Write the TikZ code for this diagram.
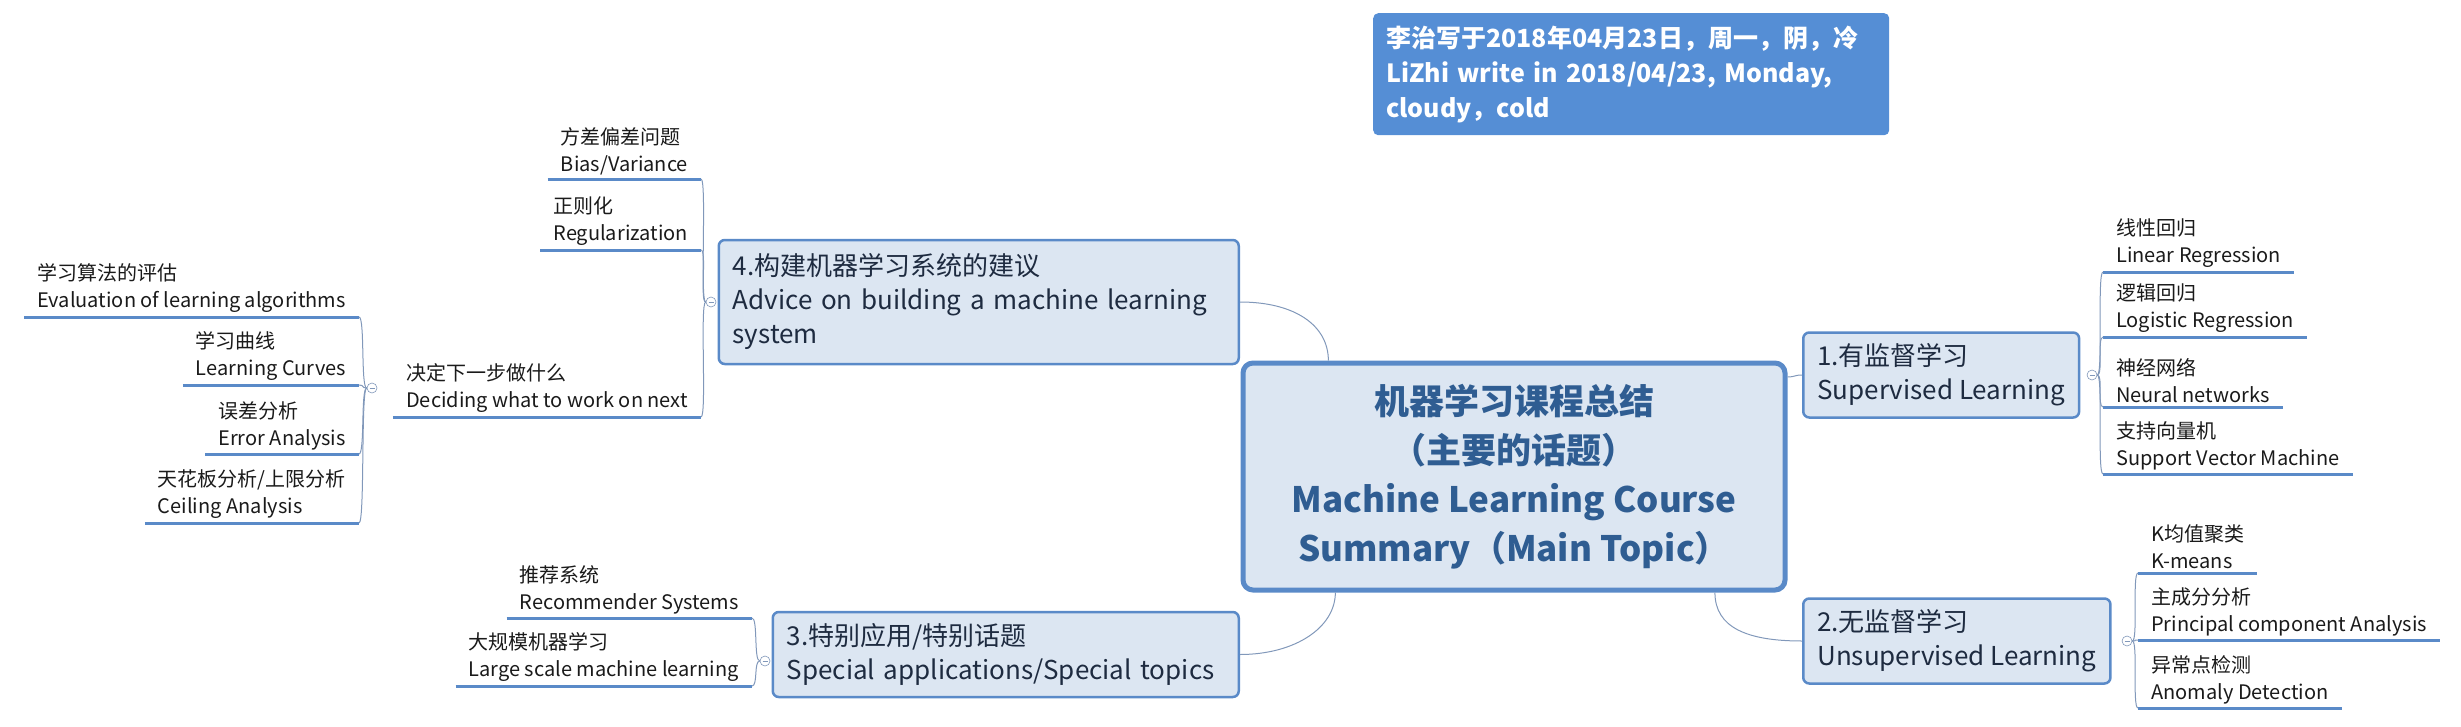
\documentclass[tikz,border=0pt]{standalone}
\usepackage{fontspec}
\setmainfont{Noto Sans CJK SC}
\usepackage{tikz}
\usepackage{xcolor}
\usetikzlibrary{calc}
\definecolor{boxfill}{HTML}{DCE6F2}
\definecolor{boxline}{HTML}{5A8AC8}
\definecolor{linkline}{HTML}{8198BA}
\definecolor{topicink}{HTML}{2F5D92}
\definecolor{boxink}{HTML}{1E2B40}
\definecolor{leafink}{HTML}{1A1A1A}
\definecolor{memofill}{HTML}{558ED5}
\tikzset{
  maintopic/.style={draw=boxline,fill=boxfill,line width=5pt,rounded corners=10pt,
                    minimum width=542pt,minimum height=227pt,align=center,
                    text=topicink,font=\fontsize{35}{49}\selectfont\bfseries},
  subtopic/.style={draw=boxline,fill=boxfill,line width=2.5pt,rounded corners=6pt,
                   minimum height=85pt,inner xsep=14pt,align=left,
                   text=boxink,font=\fontsize{26}{34}\selectfont},
  memo/.style={fill=memofill,rounded corners=5pt,text=white,align=left,
               text width=490pt,inner xsep=13pt,minimum height=122pt,
               font=\fontsize{25}{35}\selectfont\bfseries},
  leaf/.style={align=left,inner xsep=13pt,inner ysep=4pt,text=leafink,
               font=\fontsize{20}{27}\selectfont},
  uline/.style={draw=boxline,line width=3pt},
  link/.style={draw=linkline,line width=1pt},
  fold/.style={circle,draw=linkline,fill=white,line width=0.6pt,minimum size=10pt,inner sep=0pt,
               path picture={\draw[linkline,line width=0.6pt]
                 ([xshift=2.5pt]path picture bounding box.west) -- ([xshift=-2.5pt]path picture bounding box.east);}}
}

\begin{document}
\begin{tikzpicture}[x=1pt,y=-1pt]
  \useasboundingbox (0,0) rectangle (2461,726);
  % centre and note
  \node[maintopic] (main) at (1514,476.5) {机器学习课程总结\\（主要的话题）\\Machine Learning Course\\Summary（Main Topic）};
  \node[memo,anchor=north west] (memo) at (1373,13) {李治写于2018年04月23日，周一，阴，冷\\LiZhi write in 2018/04/23, Monday,\\cloudy，cold};
  % main branches
  \node[subtopic,anchor=west] (sup) at (1802,375) {1.有监督学习\\Supervised Learning};
  \node[subtopic,anchor=west] (unsup) at (1802,641) {2.无监督学习\\Unsupervised Learning};
  \node[subtopic,anchor=east,text width=438pt] (special) at (1240,654.5) {3.特别应用/特别话题\\Special applications/Special topics};
  \node[subtopic,anchor=east,text width=492pt,minimum height=124pt] (advice) at (1240,302) {4.构建机器学习系统的建议\\Advice on building a machine learning\\system};
  % leaves, right side
  \node[leaf,anchor=south west] (lr) at (2103,272) {线性回归\\Linear Regression};
  \node[leaf,anchor=south west] (logr) at (2103,337) {逻辑回归\\Logistic Regression};
  \node[leaf,anchor=south west] (nn) at (2103,407) {神经网络\\Neural networks};
  \node[leaf,anchor=south west] (svm) at (2103,474) {支持向量机\\Support Vector Machine};
  \node[leaf,anchor=south west] (km) at (2138,573) {K均值聚类\\K-means};
  \node[leaf,anchor=south west] (pca) at (2138,640) {主成分分析\\Principal component Analysis};
  \node[leaf,anchor=south west] (anom) at (2138,708) {异常点检测\\Anomaly Detection};
  % leaves, left side
  \node[leaf,anchor=south east] (rec) at (752,618) {推荐系统\\Recommender Systems};
  \node[leaf,anchor=south east] (lsml) at (752,686) {大规模机器学习\\Large scale machine learning};
  \node[leaf,anchor=south east] (bv) at (701,179) {方差偏差问题\\Bias/Variance};
  \node[leaf,anchor=south east] (reg) at (701,250) {正则化\\Regularization};
  \node[leaf,anchor=south east] (dec) at (701,417) {决定下一步做什么\\Deciding what to work on next};
  \node[leaf,anchor=south east] (eval) at (359,317) {学习算法的评估\\Evaluation of learning algorithms};
  \node[leaf,anchor=south east] (lc) at (359,385) {学习曲线\\Learning Curves};
  \node[leaf,anchor=south east] (err) at (359,454) {误差分析\\Error Analysis};
  \node[leaf,anchor=south east] (ceil) at (359,523) {天花板分析/上限分析\\Ceiling Analysis};
  \foreach \n in {lr,logr,nn,svm,km,pca,anom,rec,lsml,bv,reg,dec,eval,lc,err,ceil}
    \draw[uline] (\n.south west) -- (\n.south east);
  % fold markers
  \node[fold] (fsup) at (2092,375) {};
  \node[fold] (funsup) at (2127,641) {};
  \node[fold] (fspecial) at (765,661) {};
  \node[fold] (fadvice) at (711,302) {};
  \node[fold] (fdec) at (372,388) {};
  % connectors
  \draw[link] (advice.east) .. controls +(55,0) and +(0,-35) .. (main.148);
  \draw[link] (special.east) .. controls +(55,0) and +(0,35) .. (main.213);
  \draw[link] (main.20) .. controls +(8,0) and +(-8,0) .. (sup.west);
  \draw[link] (main.-30) .. controls +(0,35) and +(-55,0) .. (unsup.west);
  \foreach \n in {lr,logr,nn,svm}
    \draw[link] (fsup.east) .. controls +(6,0) and +(-6,0) .. (\n.south west);
  \foreach \n in {km,pca,anom}
    \draw[link] (funsup.east) .. controls +(6,0) and +(-6,0) .. (\n.south west);
  \foreach \n in {rec,lsml}
    \draw[link] (fspecial.west) .. controls +(-6,0) and +(6,0) .. (\n.south east);
  \foreach \n in {bv,reg,dec}
    \draw[link] (fadvice.west) .. controls +(-6,0) and +(6,0) .. (\n.south east);
  \foreach \n in {eval,lc,err,ceil}
    \draw[link] (fdec.west) .. controls +(-6,0) and +(6,0) .. (\n.south east);
\end{tikzpicture}
\end{document}
